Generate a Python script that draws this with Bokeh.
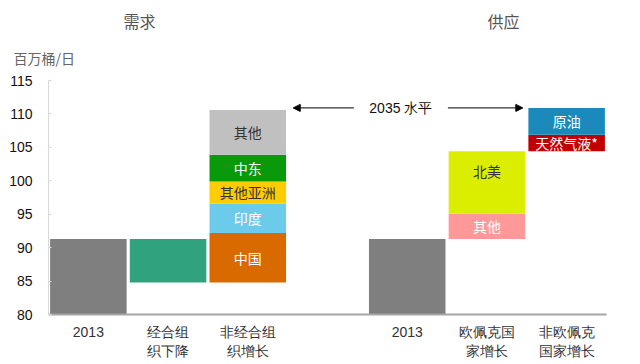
from bokeh.plotting import figure
from bokeh.layouts import column
from bokeh.models import ColumnDataSource, FixedTicker, Label, Arrow, NormalHead, Range1d
from bokeh.core.properties import value
from bokeh.embed import file_html
from bokeh.resources import INLINE

# ---- data ----
demand_cats = ["2013", "经合组\n织下降", "非经合组\n织增长"]
supply_cats = ["2013", "欧佩克国\n家增长", "非欧佩克\n国家增长"]

demand_2013 = 91.3
oecd_change = -6.5
non_oecd_names = ["中国", "印度", "其他亚洲", "中东", "其他"]
non_oecd_values = [7.4, 4.4, 3.3, 4.0, 6.7]

supply_2013 = 91.3
opec_names = ["其他", "北美"]
opec_values = [3.8, 9.3]
non_opec_names = ["天然气液*", "原油"]
non_opec_values = [2.5, 4.0]

y_ticks = [80, 85, 90, 95, 100, 105, 110, 115]

# ---- styles ----
seg_colors = {"2013": "#7f7f7f", "oecd": "#31a27e", "中国": "#d96a00", "印度": "#6ccbea",
              "其他亚洲": "#ffcc00", "中东": "#0a990a", "其他_d": "#c0c0c0",
              "其他_s": "#ff9999", "北美": "#dcee00", "天然气液*": "#c00000", "原油": "#1a8abd"}
light_text = {"中东", "印度", "中国", "原油", "天然气液*", "其他_s"}

floor = y_ticks[0]
rows = dict(x=[], bottom=[], top=[], color=[], label=[], tcolor=[], ymid=[], yoff=[])

def add(slot, b, t, key, label=""):
    rows["x"].append(slot + 0.5)
    rows["bottom"].append(b)
    rows["top"].append(t)
    rows["color"].append(seg_colors[key])
    rows["label"].append(label)
    rows["tcolor"].append("#ffffff" if key in light_text else "#333333")
    rows["ymid"].append((b + t) / 2)
    rows["yoff"].append(-11 if key == "北美" else 0)

# demand (slots 0..2)
add(0, floor, demand_2013, "2013")
oecd_bottom = demand_2013 + oecd_change
add(1, oecd_bottom, demand_2013, "oecd")
cur = oecd_bottom
for n, v in zip(non_oecd_names, non_oecd_values):
    add(2, cur, cur + v, n + "_d" if n == "其他" else n, n)
    cur += v
# supply (slots 4..6)
add(4, floor, supply_2013, "2013")
cur = supply_2013
for n, v in zip(opec_names, opec_values):
    add(5, cur, cur + v, n + "_s" if n == "其他" else n, n)
    cur += v
for n, v in zip(non_opec_names, non_opec_values):
    add(6, cur, cur + v, n, n)
    cur += v
level_2035 = cur

src = ColumnDataSource(rows)

W = 640
HEADER_H = 70

# ---- header (titles + unit) ----
hdr = figure(width=W, height=HEADER_H, output_backend="svg", toolbar_location=None,
             x_range=Range1d(0, W), y_range=Range1d(HEADER_H, 0),
             x_axis_type=None, y_axis_type=None,
             min_border_left=0, min_border_right=0, min_border_top=0, min_border_bottom=0)
hdr.frame_align = False
hdr.outline_line_color = None
hdr.grid.visible = False
hdr.add_layout(Label(x=139, y=20, text="需求", text_align="center", text_baseline="middle",
                     text_font="Noto Sans CJK SC", text_font_size="16px", text_color="#555555"))
hdr.add_layout(Label(x=503, y=20, text="供应", text_align="center", text_baseline="middle",
                     text_font="Noto Sans CJK SC", text_font_size="16px", text_color="#555555"))
hdr.add_layout(Label(x=13, y=57, text="百万桶/日", text_align="left", text_baseline="middle",
                     text_font="Noto Sans CJK SC", text_font_size="14px", text_color="#666666"))

# ---- main chart ----
p = figure(width=W, height=294, output_backend="svg", toolbar_location=None,
           x_range=(0, 7), y_range=(floor, y_ticks[-1]),
           min_border_left=48, min_border_right=34, min_border_top=10, min_border_bottom=50)
p.outline_line_color = None
p.xgrid.visible = False
p.ygrid.visible = False

p.vbar(x="x", bottom="bottom", top="top", width=0.96, color="color", line_color=None, source=src)
p.text(x="x", y="ymid", text="label", text_color="tcolor", y_offset="yoff",
       text_align="center", text_baseline="middle",
       text_font=value("Noto Sans CJK SC"), text_font_size="14px", source=src)

# y axis
ya = p.yaxis[0]
ya.ticker = FixedTicker(ticks=y_ticks)
ya.bounds = (y_ticks[0], y_ticks[-1])
ya.axis_line_color = "#d9d9d9"
ya.major_tick_line_color = "#d9d9d9"
ya.major_tick_in = 3
ya.major_tick_out = 0
ya.minor_tick_line_color = None
ya.major_label_standoff = 16
ya.major_label_text_font = "Liberation Sans"
ya.major_label_text_font_size = "14px"
ya.major_label_text_color = "#111111"

# x axis
xa = p.xaxis[0]
centers = [0.5, 1.5, 2.5, 4.5, 5.5, 6.5]
xa.ticker = FixedTicker(ticks=centers)
xa.major_label_overrides = {c: l for c, l in zip(centers, demand_cats + supply_cats)}
xa.axis_line_color = "#a6a6a6"
xa.axis_line_width = 2
xa.major_tick_line_color = None
xa.minor_tick_line_color = None
xa.major_label_standoff = 3
xa.major_label_text_font = "Liberation Sans"
xa.major_label_text_font_size = "14px"
xa.major_label_text_color = "#333333"

# 2035 level arrows
head = dict(size=7, fill_color="black", line_color="black")
p.add_layout(Arrow(end=NormalHead(**head), x_start=3.83, y_start=level_2035,
                   x_end=3.07, y_end=level_2035, line_width=1))
p.add_layout(Arrow(end=NormalHead(**head), x_start=5.01, y_start=level_2035,
                   x_end=5.95, y_end=level_2035, line_width=1))
p.add_layout(Label(x=4.42, y=level_2035, text="2035 水平", text_align="center",
                   text_baseline="middle", text_font="Liberation Sans",
                   text_font_size="14px", text_color="#111111"))

layout = column(hdr, p, spacing=0)
open("out.html", "w").write(file_html(layout, INLINE))
